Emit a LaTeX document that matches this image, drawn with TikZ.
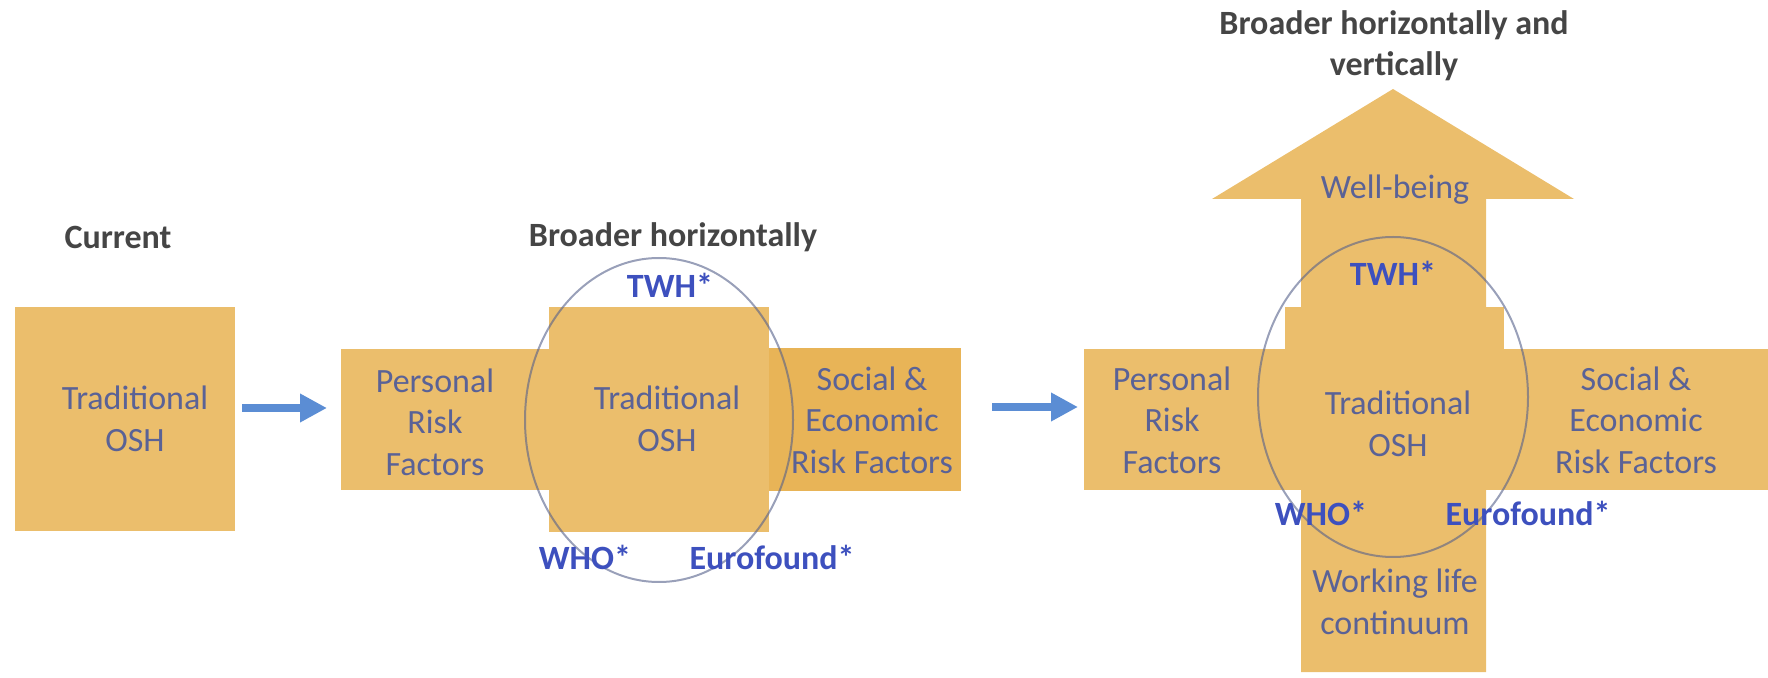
\documentclass[tikz,border=0pt]{standalone}
\usepackage{fontspec}
\setmainfont{Carlito}
\usetikzlibrary{arrows.meta}
\definecolor{osh}{HTML}{EBBE6C}
\definecolor{oshdark}{HTML}{E8B457}
\definecolor{boxtxt}{HTML}{5A6296}
\definecolor{lblblue}{HTML}{3D50BE}
\definecolor{headgray}{HTML}{454545}
\definecolor{arrblue}{HTML}{5B8DD4}
\definecolor{ringcol}{HTML}{55608A}
\begin{document}
\begin{tikzpicture}[x=0.5pt,y=-0.5pt,
  boxtext/.style={text=boxtxt, align=center, inner sep=0pt,
    font=\fontsize{17}{20.7}\selectfont},
  lbltext/.style={text=lblblue, inner sep=0pt,
    font=\fontsize{17}{20.7}\selectfont\bfseries},
  headtext/.style={text=headgray, align=center, inner sep=0pt,
    font=\fontsize{17}{20.7}\selectfont\bfseries},
  flow/.style={draw=arrblue, line width=4pt,
    -{Triangle[length=13.5pt,width=13.5pt]}},
  ring/.style={draw=ringcol, draw opacity=0.6, line width=1pt}]
\useasboundingbox (0,0) rectangle (1768,678);

% ---------- Current ----------
\node[headtext] (cur) at (118,237) {Current};
\fill[osh] (15,307) rectangle (235,531);
\node[boxtext] (trad1) at (135,419) {Traditional\\OSH};

\coordinate (a1s) at (242,408);
\coordinate (a1e) at (327,408);
\draw[flow] (a1s) -- (a1e);

% ---------- Broader horizontally ----------
\node[headtext] (bh) at (673,237) {Broader horizontally};
\fill[osh] (341,349) rectangle (560,490);
\fill[oshdark] (769,348) rectangle (961,491);
\fill[osh] (549,307) rectangle (769,532);
\draw[ring] (659,420) ellipse [x radius=67pt, y radius=81pt];
\node[boxtext] (pers2) at (435,422) {Personal\\Risk\\Factors};
\node[boxtext] (trad2) at (667,419) {Traditional\\OSH};
\node[boxtext] (soc2) at (872,420) {Social \&\\Economic\\Risk Factors};
\node[lbltext] (twh2) at (670,285) {TWH*};
\node[lbltext] (who2) at (585,557) {WHO*};
\node[lbltext] (euro2) at (772,557) {Eurofound*};

\coordinate (a2s) at (992,407);
\coordinate (a2e) at (1078,407);
\draw[flow] (a2s) -- (a2e);

% ---------- Broader horizontally and vertically ----------
\node[headtext] (bhv) at (1394,46) {Broader horizontally and\\vertically};
\fill[osh] (1301,672) -- (1301,199) -- (1212,199) -- (1393,89)
  -- (1574,199) -- (1486,199) -- (1486,672) -- cycle;
\fill[osh] (1285,307) rectangle (1504,490);
\fill[osh] (1084,349) rectangle (1768,490);
\draw[ring] (1393,397) ellipse [x radius=67.5pt, y radius=80pt];
\node[boxtext] (well) at (1395,190) {Well-being};
\node[boxtext] (pers3) at (1172,420) {Personal\\Risk\\Factors};
\node[boxtext] (trad3) at (1398,424) {Traditional\\OSH};
\node[boxtext] (soc3) at (1636,420) {Social \&\\Economic\\Risk Factors};
\node[boxtext] (work) at (1395,602) {Working life\\continuum};
\node[lbltext] (twh3) at (1393,273) {TWH*};
\node[lbltext] (who3) at (1321,513) {WHO*};
\node[lbltext] (euro3) at (1528,513) {Eurofound*};
\end{tikzpicture}
\end{document}
